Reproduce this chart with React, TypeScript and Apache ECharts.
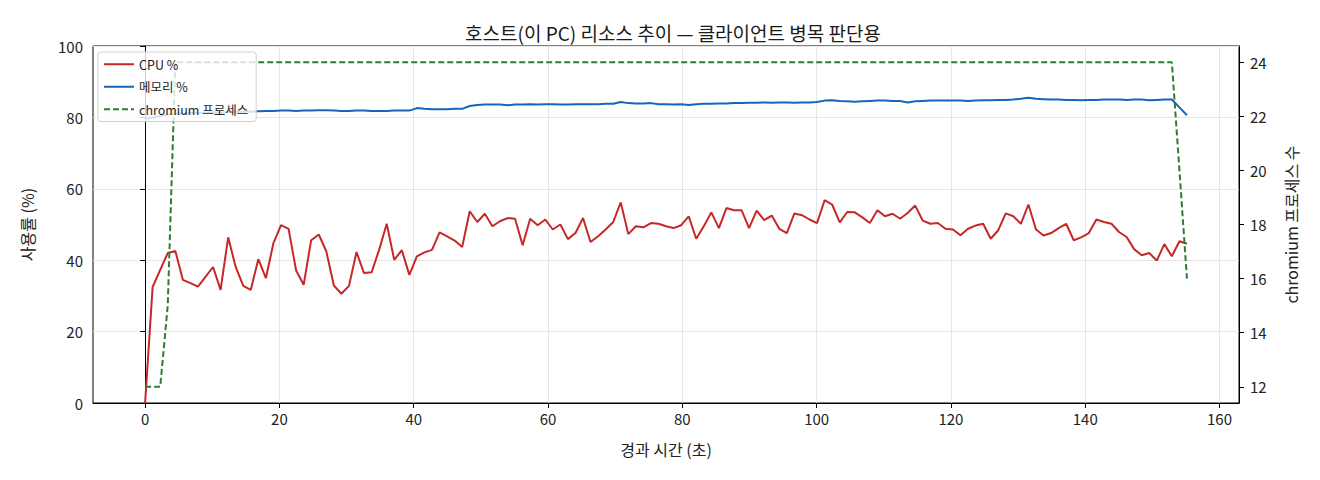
import React, { useEffect, useRef } from "react";
import * as echarts from "echarts";

// one sample roughly every 1.12 s
const SAMPLE_SEC = 1.1243;
const X_TICKS = [0, 20, 40, 60, 80, 100, 120, 140, 160];
const PROC_TICKS = [12, 14, 16, 18, 20, 22, 24];

const cpuPct = [
  0, 32.5, 37.3, 42.0, 42.6, 34.5, 33.6, 32.6, 35.3, 38.1,
  31.7, 46.4, 38.1, 32.8, 31.7, 40.3, 35.0, 44.8, 49.8, 48.8,
  37.1, 33.1, 45.6, 47.2, 42.5, 32.9, 30.6, 32.8, 42.3, 36.4,
  36.6, 42.9, 50.2, 40.1, 42.8, 35.9, 41.1, 42.2, 42.9, 47.8,
  46.7, 45.5, 43.7, 53.7, 50.7, 53.0, 49.5, 50.9, 51.8, 51.6,
  44.2, 51.6, 49.8, 51.4, 48.6, 50.0, 45.9, 47.6, 51.8, 45.1,
  46.7, 48.6, 50.7, 56.2, 47.3, 49.5, 49.2, 50.4, 50.2, 49.5,
  49.0, 49.8, 52.3, 46.0, 49.5, 53.4, 49.0, 54.6, 54.0, 54.0,
  49.0, 53.9, 51.2, 52.5, 48.8, 47.6, 53.1, 52.6, 51.4, 50.4,
  56.8, 55.6, 50.6, 53.5, 53.4, 52.0, 50.4, 54.0, 52.3, 53.0,
  51.6, 53.2, 55.3, 51.1, 50.2, 50.4, 48.8, 48.6, 47.0, 48.8,
  49.7, 50.2, 46.0, 48.4, 53.1, 52.3, 50.2, 55.6, 48.6, 46.9,
  47.6, 49.0, 50.2, 45.6, 46.4, 47.6, 51.4, 50.7, 50.2, 47.9,
  46.5, 43.1, 41.4, 42.0, 39.9, 44.5, 41.1, 45.3, 44.6,
];

const memPct = [
  79.6, 79.9, 80.4, 80.8, 81.0, 81.1, 81.2, 81.3, 81.3, 81.4,
  81.4, 81.5, 81.5, 81.6, 81.6, 81.7, 81.8, 81.8, 81.9, 81.9,
  81.8, 81.9, 81.9, 82.0, 82.0, 81.9, 81.8, 81.8, 81.9, 81.9,
  81.8, 81.8, 81.8, 81.9, 81.9, 81.9, 82.6, 82.4, 82.3, 82.3,
  82.3, 82.4, 82.4, 83.2, 83.5, 83.6, 83.6, 83.6, 83.4, 83.6,
  83.6, 83.7, 83.6, 83.7, 83.7, 83.6, 83.6, 83.7, 83.7, 83.7,
  83.7, 83.8, 83.8, 84.3, 84.0, 83.9, 83.9, 84.0, 83.7, 83.7,
  83.6, 83.7, 83.5, 83.7, 83.8, 83.8, 83.9, 83.9, 84.0, 84.0,
  84.1, 84.1, 84.2, 84.1, 84.2, 84.2, 84.1, 84.2, 84.2, 84.3,
  84.7, 84.8, 84.6, 84.5, 84.4, 84.5, 84.6, 84.7, 84.7, 84.6,
  84.6, 84.2, 84.5, 84.6, 84.7, 84.7, 84.7, 84.7, 84.7, 84.6,
  84.7, 84.8, 84.8, 84.9, 84.9, 85.0, 85.2, 85.5, 85.2, 85.1,
  85.0, 85.0, 84.9, 84.9, 84.8, 84.9, 84.9, 85.0, 85.0, 85.0,
  84.9, 85.0, 85.0, 84.8, 84.9, 85.0, 85.0, 82.8, 80.6,
];

const chromiumProcs = [
  12, 12, 12, 15, 24, 24, 24, 24, 24, 24,
  24, 24, 24, 24, 24, 24, 24, 24, 24, 24,
  24, 24, 24, 24, 24, 24, 24, 24, 24, 24,
  24, 24, 24, 24, 24, 24, 24, 24, 24, 24,
  24, 24, 24, 24, 24, 24, 24, 24, 24, 24,
  24, 24, 24, 24, 24, 24, 24, 24, 24, 24,
  24, 24, 24, 24, 24, 24, 24, 24, 24, 24,
  24, 24, 24, 24, 24, 24, 24, 24, 24, 24,
  24, 24, 24, 24, 24, 24, 24, 24, 24, 24,
  24, 24, 24, 24, 24, 24, 24, 24, 24, 24,
  24, 24, 24, 24, 24, 24, 24, 24, 24, 24,
  24, 24, 24, 24, 24, 24, 24, 24, 24, 24,
  24, 24, 24, 24, 24, 24, 24, 24, 24, 24,
  24, 24, 24, 24, 24, 24, 24, 20, 16,
];

const FONT = '"Noto Sans CJK KR", "DejaVu Sans", sans-serif';

const withTime = (vals: number[]) =>
  vals.map((v, i) => [Math.round(i * SAMPLE_SEC * 100) / 100, v]);

const App: React.FC = () => {
  const chartRef = useRef<HTMLDivElement | null>(null);

  useEffect(() => {
    if (!chartRef.current) return;
    const chart = echarts.init(chartRef.current, undefined, { renderer: "svg" });

    const tickLabel = { color: "#222", fontSize: 15, fontFamily: FONT };
    const axisName = { color: "#222", fontSize: 16, fontFamily: FONT };

    chart.setOption({
      animation: false,
      textStyle: { fontFamily: FONT },
      title: {
        text: "호스트(이 PC) 리소스 추이 — 클라이언트 병목 판단용",
        left: 668,
        textAlign: "center",
        top: 18,
        textStyle: { fontSize: 19, fontWeight: "normal", color: "#1a1a1a", fontFamily: FONT },
      },
      grid: {
        left: 93,
        right: 81,
        top: 46,
        bottom: 77,
        show: true,
        borderColor: "#000",
        borderWidth: 1,
        backgroundColor: "transparent",
      },
      legend: {
        orient: "vertical",
        left: 98,
        top: 52,
        itemWidth: 30,
        itemHeight: 12,
        itemGap: 10,
        padding: [6, 8, 6, 5],
        backgroundColor: "rgba(255,255,255,0.8)",
        borderColor: "#d0d0d0",
        borderWidth: 1,
        borderRadius: 3,
        itemStyle: { opacity: 0 },
        textStyle: { fontSize: 12.5, color: "#222", fontFamily: FONT },
        data: ["CPU %", "메모리 %", "chromium 프로세스"],
      },
      xAxis: {
        type: "value",
        min: -7.76,
        max: 162.9,
        name: "경과 시간 (초)",
        nameLocation: "middle",
        nameGap: 38,
        nameTextStyle: axisName,
        axisLine: { show: true, lineStyle: { color: "#000", width: 1 } },
        axisTick: { show: true, length: 5, customValues: X_TICKS, lineStyle: { color: "#000" } },
        axisLabel: { ...tickLabel, margin: 8, customValues: X_TICKS },
        splitLine: { show: true, lineStyle: { color: "#e6e6e6", width: 1 } },
      },
      yAxis: [
        {
          type: "value",
          min: 0,
          max: 100,
          interval: 20,
          name: "사용률 (%)",
          nameLocation: "middle",
          nameGap: 58,
          nameRotate: 90,
          nameTextStyle: axisName,
          axisLine: { show: true, lineStyle: { color: "#000", width: 1 } },
          axisTick: { show: true, length: 5, lineStyle: { color: "#000" } },
          axisLabel: { ...tickLabel, margin: 10 },
          splitLine: { show: true, lineStyle: { color: "#e6e6e6", width: 1 } },
        },
        {
          type: "value",
          position: "right",
          min: 11.4,
          max: 24.6,
          name: "chromium 프로세스 수",
          nameLocation: "middle",
          nameGap: 44,
          nameRotate: 90,
          nameTextStyle: axisName,
          axisLine: { show: true, lineStyle: { color: "#000", width: 1 } },
          axisTick: { show: true, length: 5, customValues: PROC_TICKS, lineStyle: { color: "#000" } },
          axisLabel: { ...tickLabel, margin: 11, customValues: PROC_TICKS },
          splitLine: { show: false },
        },
      ],
      series: [
        {
          name: "CPU %",
          type: "line",
          data: withTime(cpuPct),
          symbol: "none",
          showSymbol: false,
          lineStyle: { color: "#c62828", width: 2 },
          itemStyle: { color: "#c62828" },
        },
        {
          name: "메모리 %",
          type: "line",
          data: withTime(memPct),
          symbol: "none",
          showSymbol: false,
          lineStyle: { color: "#1565c0", width: 2 },
          itemStyle: { color: "#1565c0" },
        },
        {
          name: "chromium 프로세스",
          type: "line",
          yAxisIndex: 1,
          data: withTime(chromiumProcs),
          symbol: "none",
          showSymbol: false,
          lineStyle: { color: "#2e7d32", width: 2, type: [6, 3] },
          itemStyle: { color: "#2e7d32" },
        },
      ],
    });

    return () => {
      chart.dispose();
    };
  }, []);

  return (
    <div
      ref={chartRef}
      style={{ position: "absolute", left: 0, top: 0, width: 1320, height: 480, background: "#fff" }}
    />
  );
};

export default App;
